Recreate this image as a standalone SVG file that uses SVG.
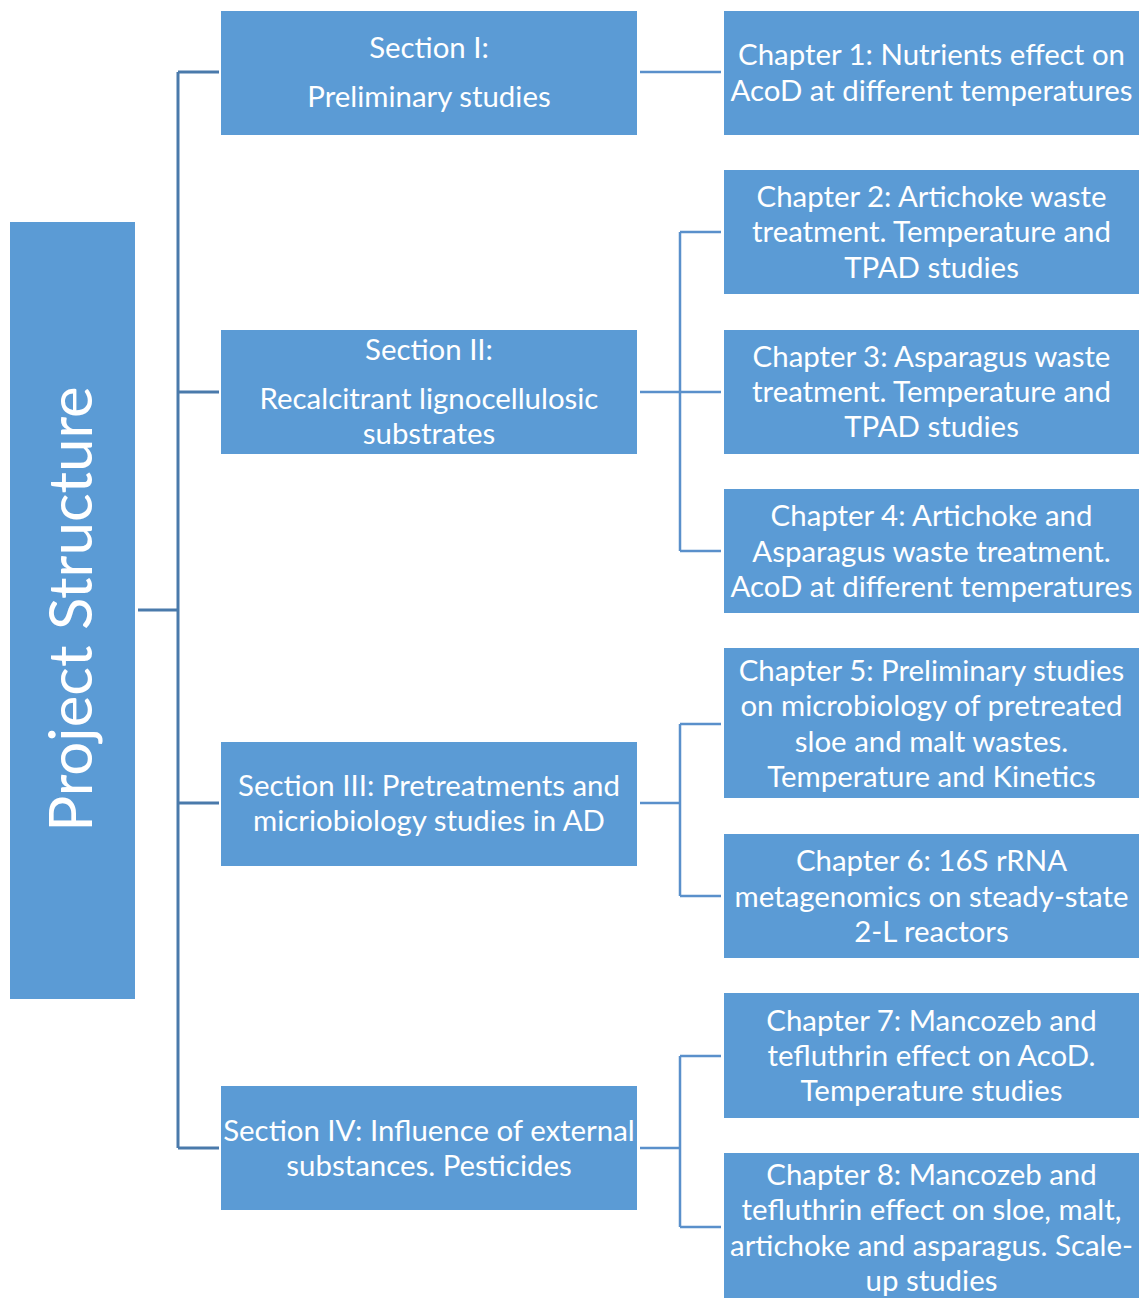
<svg xmlns="http://www.w3.org/2000/svg" width="1142" height="1298" viewBox="0 0 1142 1298">
<style>
.box{fill:#5B9BD5;}
.t{font-family:Lato,"Open Sans","Liberation Sans",sans-serif;font-size:29.4px;fill:#FFFFFF;text-anchor:middle;}
.title{font-family:Lato,"Open Sans","Liberation Sans",sans-serif;font-size:60px;fill:#FFFFFF;text-anchor:middle;}
.cl{fill:none;stroke:#4A7AAB;stroke-width:3;}
.cr{fill:none;stroke:#5A90CB;stroke-width:2.5;}
</style>
<rect width="1142" height="1298" fill="#FFFFFF"/>
<g id="connectors">
<path class="cl" d="M138,610 H178 M178,72 V1148 M178,72 H219 M178,392 H219 M178,803 H219 M178,1148 H219"/>
<path class="cr" d="M640,72 H721"/>
<path class="cr" d="M640,392 H680 M680,232 V551 M680,232 H721 M680,392 H721 M680,551 H721"/>
<path class="cr" d="M640,803 H680 M680,724 V896 M680,724 H721 M680,896 H721"/>
<path class="cr" d="M640,1148 H680 M680,1056 V1227 M680,1056 H721 M680,1227 H721"/>
</g>
<g id="root">
<rect class="box" x="10" y="222" width="125" height="777"/>
<text class="title" transform="translate(92,609) rotate(-90)" x="0" y="0">Project Structure</text>
</g>
<g id="section1">
<rect class="box" x="221" y="11" width="416" height="124"/>
<text class="t" x="429" y="58">Section I:</text>
<text class="t" x="429" y="107">Preliminary studies</text>
</g>
<g id="section2">
<rect class="box" x="221" y="330" width="416" height="124"/>
<text class="t" x="429" y="360">Section II:</text>
<text class="t" x="429" y="409">Recalcitrant lignocellulosic</text>
<text class="t" x="429" y="444">substrates</text>
</g>
<g id="section3">
<rect class="box" x="221" y="742" width="416" height="124"/>
<text class="t" x="429" y="796">Section III: Pretreatments and</text>
<text class="t" x="429" y="831">micriobiology studies in AD</text>
</g>
<g id="section4">
<rect class="box" x="221" y="1086" width="416" height="124"/>
<text class="t" x="429" y="1141">Section IV: Influence of external</text>
<text class="t" x="429" y="1176">substances. Pesticides</text>
</g>
<g id="chapter1">
<rect class="box" x="724" y="11" width="415" height="124"/>
<text class="t" x="931.5" y="65">Chapter 1: Nutrients effect on</text>
<text class="t" x="931.5" y="101">AcoD at different temperatures</text>
</g>
<g id="chapter2">
<rect class="box" x="724" y="170" width="415" height="124"/>
<text class="t" x="931.5" y="207">Chapter 2: Artichoke waste</text>
<text class="t" x="931.5" y="242">treatment. Temperature and</text>
<text class="t" x="931.5" y="278">TPAD studies</text>
</g>
<g id="chapter3">
<rect class="box" x="724" y="330" width="415" height="124"/>
<text class="t" x="931.5" y="367">Chapter 3: Asparagus waste</text>
<text class="t" x="931.5" y="402">treatment. Temperature and</text>
<text class="t" x="931.5" y="437">TPAD studies</text>
</g>
<g id="chapter4">
<rect class="box" x="724" y="489" width="415" height="124"/>
<text class="t" x="931.5" y="526">Chapter 4: Artichoke and</text>
<text class="t" x="931.5" y="562">Asparagus waste treatment.</text>
<text class="t" x="931.5" y="597">AcoD at different temperatures</text>
</g>
<g id="chapter5">
<rect class="box" x="724" y="648" width="415" height="150"/>
<text class="t" x="931.5" y="681">Chapter 5: Preliminary studies</text>
<text class="t" x="931.5" y="716">on microbiology of pretreated</text>
<text class="t" x="931.5" y="752">sloe and malt wastes.</text>
<text class="t" x="931.5" y="787">Temperature and Kinetics</text>
</g>
<g id="chapter6">
<rect class="box" x="724" y="834" width="415" height="124"/>
<text class="t" x="931.5" y="871">Chapter 6: 16S rRNA</text>
<text class="t" x="931.5" y="907">metagenomics on steady-state</text>
<text class="t" x="931.5" y="942">2-L reactors</text>
</g>
<g id="chapter7">
<rect class="box" x="724" y="993" width="415" height="125"/>
<text class="t" x="931.5" y="1031">Chapter 7: Mancozeb and</text>
<text class="t" x="931.5" y="1066">tefluthrin effect on AcoD.</text>
<text class="t" x="931.5" y="1101">Temperature studies</text>
</g>
<g id="chapter8">
<rect class="box" x="724" y="1153" width="415" height="145"/>
<text class="t" x="931.5" y="1185">Chapter 8: Mancozeb and</text>
<text class="t" x="931.5" y="1220">tefluthrin effect on sloe, malt,</text>
<text class="t" x="931.5" y="1256">artichoke and asparagus. Scale-</text>
<text class="t" x="931.5" y="1291">up studies</text>
</g>
</svg>
